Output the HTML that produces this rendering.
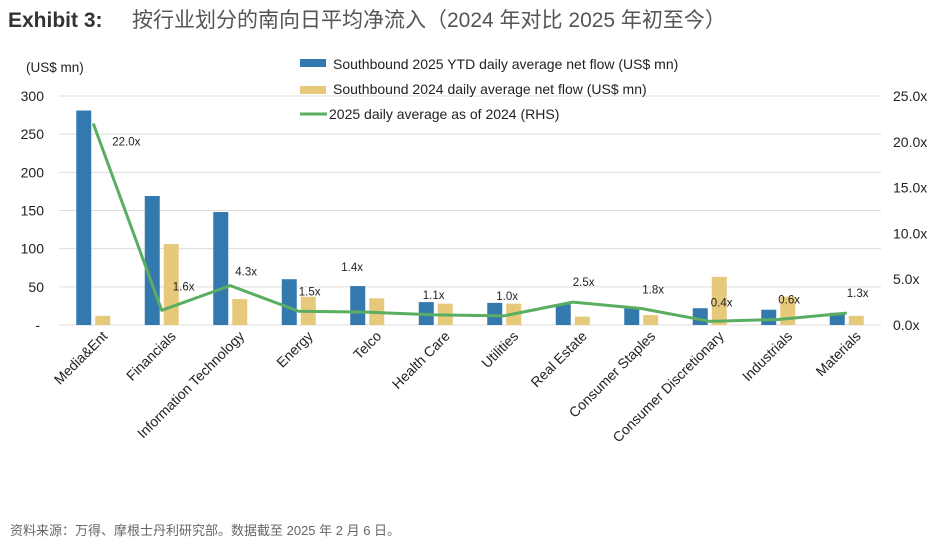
<!DOCTYPE html>
<html><head><meta charset="utf-8"><style>
body{margin:0;background:#fff;width:944px;height:543px;overflow:hidden;font-family:"Liberation Sans","Noto Sans CJK SC",sans-serif}
svg text{font-family:"Liberation Sans","Noto Sans CJK SC",sans-serif}
</style></head><body>
<svg id="c" width="944" height="543">
<text x="8" y="27" font-size="21" font-weight="bold" fill="#333">Exhibit 3:</text>
<text x="132" y="27" font-size="21" fill="#555">按行业划分的南向日平均净流入（2024 年对比 2025 年初至今）</text>
<text x="26" y="72" font-size="13.5" fill="#222">(US$ mn)</text>
<text x="10" y="535" font-size="13" fill="#666">资料来源：万得、摩根士丹利研究部。数据截至 2025 年 2 月 6 日。</text>
<g id="g"></g>
<g>
<rect x="300" y="59" width="26" height="8" fill="#3479ae"/>
<text x="333" y="69" font-size="14" fill="#222">Southbound 2025 YTD daily average net flow (US$ mn)</text>
<rect x="300" y="86" width="26" height="8" fill="#e6c97a"/>
<text x="333" y="94" font-size="14" fill="#222">Southbound 2024 daily average net flow (US$ mn)</text>
<line x1="300" y1="114" x2="327" y2="114" stroke="#5aae62" stroke-width="3"/>
<text x="329" y="119" font-size="14" fill="#222">2025 daily average as of 2024 (RHS)</text>
</g>
</svg>
<script>
const categories=["Media&Ent","Financials","Information Technology","Energy","Telco","Health Care","Utilities","Real Estate","Consumer Staples","Consumer Discretionary","Industrials","Materials"];
const flow2025=[281,169,148,60,51,30,29,27,22,22,20,16];
const flow2024=[12,106,34,37,35,28,28,11,13,63,37,12];
const ratio=[22.0,1.6,4.3,1.5,1.4,1.1,1.0,2.5,1.8,0.4,0.6,1.3];
const leftTicks=[0,50,100,150,200,250,300];
const rightTicks=[0,5,10,15,20,25];
const labelDx=[19,11,5,0,-26,-13,-8,0,1,1,0,0];
const labelDy=[22,-20,-10,-16,-41,-16,-16,-16,-15,-15,-16,-16];
const NS="http://www.w3.org/2000/svg";
const g=document.getElementById('g');
const X0=59,X1=881,Y0=325,Y1=96;
const band=(X1-X0)/categories.length;
const cx=i=>X0+band*(i+0.5);
const yL=v=>Y0-(v/300)*(Y0-Y1);
const yR=v=>Y0-(v/25)*(Y0-Y1);
function el(t,a){const e=document.createElementNS(NS,t);for(const k in a)e.setAttribute(k,a[k]);g.appendChild(e);return e;}
leftTicks.forEach(v=>{
 const l=el('line',{x1:X0,x2:X1,y1:yL(v),y2:yL(v),stroke:'#ddd','stroke-width':1});
 
 
 const t=el('text',{x:v===0?40:44,y:yL(v)+5,'font-size':14,fill:'#222','text-anchor':'end'});
 t.textContent=v===0?'-':v;
 
 
});
rightTicks.forEach(v=>{
 const t=el('text',{x:893,y:yR(v)+5,'font-size':14,fill:'#222'});
 t.textContent=v.toFixed(1)+'x';
 
 
});
categories.forEach((c,i)=>{
 const b=el('rect',{x:cx(i)-17,y:yL(flow2025[i]),width:15,height:Y0-yL(flow2025[i]),fill:'#3479ae'});
 
 
 const b2=el('rect',{x:cx(i)+2,y:yL(flow2024[i]),width:15,height:Y0-yL(flow2024[i]),fill:'#e6c97a'});
 
 
 const t=el('text',{x:0,y:0,'font-size':14,fill:'#222','text-anchor':'end',transform:`translate(${cx(i)+15},${Y0+12}) rotate(-45)`});
 t.textContent=c;
 
 
});
const pl=el('polyline',{points:ratio.map((v,i)=>cx(i)+','+yR(v)).join(' '),fill:'none',stroke:'#5aae62','stroke-width':3,'stroke-linejoin':'round'});


ratio.forEach((v,i)=>{
 const t=el('text',{x:cx(i)+labelDx[i],y:yR(v)+labelDy[i],'font-size':11.5,fill:'#222'});
 t.textContent=v.toFixed(1)+'x';
 
 
});
</script>
</body></html>
